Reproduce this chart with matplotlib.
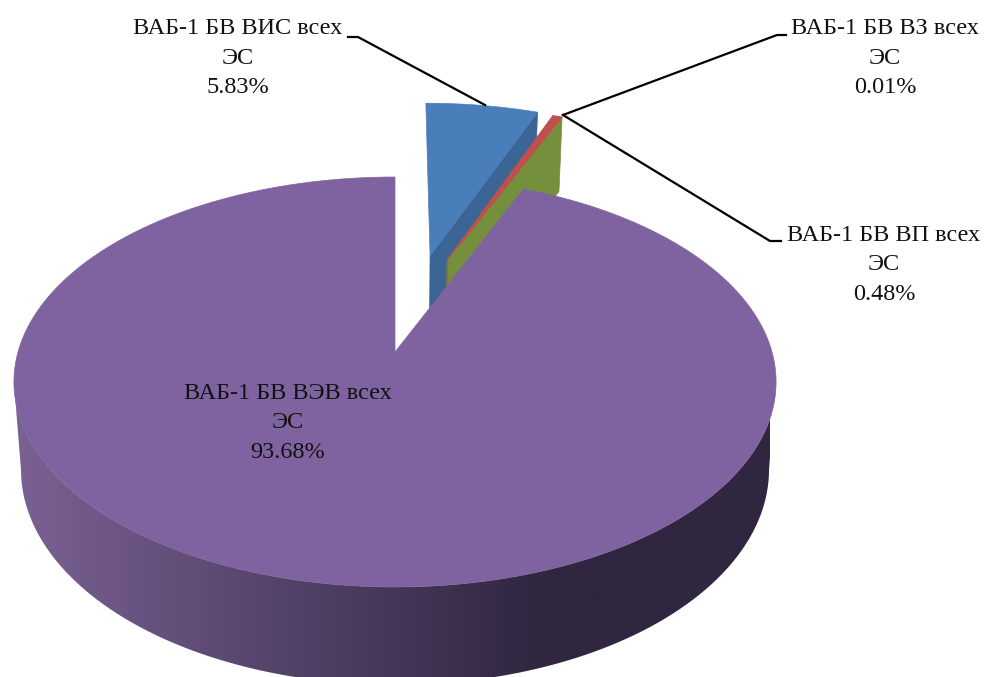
import numpy as np
import matplotlib
matplotlib.use('Agg')
import matplotlib.pyplot as plt
from matplotlib.patches import Polygon

plt.rcParams['font.family'] = ['Liberation Serif', 'DejaVu Serif']

# Slice shares in percent, clockwise from 12 o'clock
names = ['ВАБ-1 БВ ВИС всех', 'ВАБ-1 БВ ВП всех', 'ВАБ-1 БВ ВЗ всех', 'ВАБ-1 БВ ВЭВ всех']
shares = [5.83, 0.48, 0.01, 93.68]
unit = 'ЭС'

blue, blue_dark = '#4a7ebb', '#3a6594'
red = '#c0504d'
green = '#74903d'
purple = '#7f63a0'
side_light = np.array([0x7a, 0x61, 0x94]) / 255
side_dark = np.array([0x30, 0x26, 0x40]) / 255

# Perspective of the pie: plane coordinates -> pixels, for the top and bottom discs
cx = 395
persp = 0.1463
top_disc = (377, 200.6, 352)
bottom_disc = (370, 210.7, 438)


def project(x, y, disc):
    a, b, cy = disc
    w = 1 + persp * y
    return cx + a * x / w, cy - b * y / w


def arc(t1, t2, shift, disc, n=200):
    # t is degrees clockwise from north
    t = np.radians(np.linspace(t1, t2, n))
    sx, sy = project(shift[0] + np.sin(t), shift[1] + np.cos(t), disc)
    return np.column_stack([sx, sy])


def face(t1, t2, shift, disc=top_disc):
    apex = np.array(project(shift[0], shift[1], disc))
    return np.vstack([apex, arc(t1, t2, shift, disc)])


def wall(t, shift):
    # radial cut wall of a slice, at angle t
    rad = np.radians(t)
    pts = []
    for r, disc in [(0, top_disc), (1, top_disc), (1, bottom_disc), (0, bottom_disc)]:
        pts.append(project(shift[0] + r * np.sin(rad), shift[1] + r * np.cos(rad), disc))
    return np.array(pts)


edges = np.concatenate([[0], np.cumsum(shares)]) * 3.6

fig = plt.figure(figsize=(9.84, 6.77), dpi=100)
ax = fig.add_axes([0, 0, 1, 1])
ax.set_xlim(0, 984)
ax.set_ylim(677, 0)
ax.axis('off')

blue_shift = (0.10, 0.515)
small_shift = (0.148, 0.49)

# blue slice, pulled out
ax.add_patch(Polygon(wall(edges[1], blue_shift), closed=True, fc=blue_dark, ec=blue_dark, lw=0.5, zorder=2))
ax.add_patch(Polygon(face(edges[0], edges[1], blue_shift), closed=True, fc=blue, ec=blue, lw=0.5, zorder=3))

# the two thin slices: the red top and the green cut wall are what shows
ax.add_patch(Polygon(wall(edges[3], small_shift), closed=True, fc=green, ec=green, lw=0.5, zorder=4))
ax.add_patch(Polygon(face(edges[2], edges[3], small_shift), closed=True, fc=green, ec=green, lw=0.5, zorder=4))
ax.add_patch(Polygon(face(edges[1], edges[2], small_shift), closed=True, fc=red, ec=red, lw=0.8, zorder=5))
apex_top = project(*small_shift, top_disc)
ax.plot([apex_top[0], apex_top[0]], [apex_top[1], apex_top[1] + 25], color=red, lw=1, zorder=5)

# purple outer side with the left-to-right shading
side = np.vstack([arc(98.4, 261.6, (0, 0), top_disc), arc(261.6, 98.4, (0, 0), bottom_disc)])
side_patch = Polygon(side, closed=True, fc='none', ec='none', zorder=6)
ax.add_patch(side_patch)
ramp = np.clip(np.linspace(0, 1, 500) / 0.7, 0, 1)[None, :, None]
shade = side_light[None, None, :] * (1 - ramp) + side_dark[None, None, :] * ramp
img = ax.imshow(shade, extent=(15, 770, 690, 380), aspect='auto', zorder=6)
img.set_clip_path(side_patch)
ax.set_xlim(0, 984)
ax.set_ylim(677, 0)

# purple top
ax.add_patch(Polygon(face(edges[3], edges[4], (0, 0)), closed=True, fc=purple, ec=purple, lw=0.5, zorder=7))

# labels
fs = 17.5
ls = 1.56
ax.text(238, 58, f'{names[0]}\n{unit}\n{shares[0]:.2f}%', ha='center', va='center', fontsize=fs, linespacing=ls, color='#111111', zorder=9)
ax.text(885, 58, f'{names[2]}\n{unit}\n{shares[2]:.2f}%', ha='center', va='center', fontsize=fs, linespacing=ls, color='#111111', zorder=9)
ax.text(884, 265, f'{names[1]}\n{unit}\n{shares[1]:.2f}%', ha='center', va='center', fontsize=fs, linespacing=ls, color='#111111', zorder=9)
ax.text(288, 423, f'{names[3]}\n{unit}\n{shares[3]:.2f}%', ha='center', va='center', fontsize=fs, linespacing=ls, color='#111111', zorder=9)

# leader lines
ax.plot([348, 358, 485], [37, 37, 105], color='black', lw=1.6, zorder=8)
ax.plot([786, 777, 563], [35, 35, 115], color='black', lw=1.6, zorder=8)
ax.plot([781, 770, 563], [241, 241, 115], color='black', lw=1.6, zorder=8)

fig.savefig('out.png', dpi=100)
